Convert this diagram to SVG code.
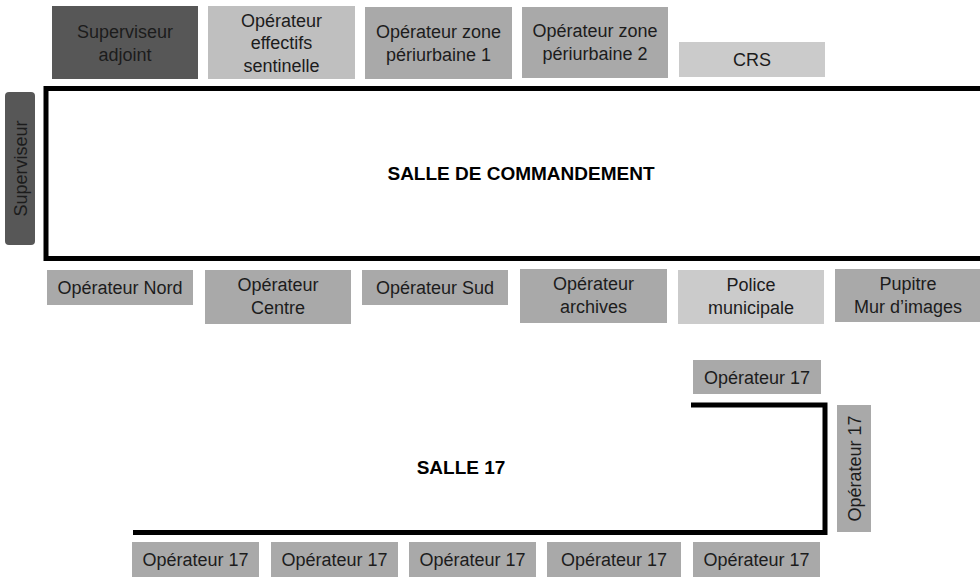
<svg xmlns="http://www.w3.org/2000/svg" width="980" height="577" viewBox="0 0 980 577">
<style>
text{font-family:"Liberation Sans",Arial,sans-serif;font-size:18px;fill:#1c1c1c;text-anchor:middle}
.bold{font-weight:bold;font-size:19px;fill:#000}
.wall{fill:none;stroke:#000;stroke-width:5}
.dark{fill:#575757}
.mid{fill:#a9a9a9}
.pale{fill:#bfbfbf}
.light{fill:#cbcbcb}
</style>
<rect width="980" height="577" fill="#fff"/>

<g id="salle-commandement">
<rect class="wall" x="46" y="88.5" width="945" height="170"/>
<text class="bold" x="521" y="180">SALLE DE COMMANDEMENT</text>
</g>

<g id="salle-17">
<polyline class="wall" points="691,405 825,405 825,532.5 133,532.5"/>
<text class="bold" x="461" y="474">SALLE 17</text>
</g>

<g id="superviseur">
<rect class="dark" x="5" y="92" width="30" height="153" rx="4"/>
<text x="0" y="0" transform="translate(26.5 168.5) rotate(-90)">Superviseur</text>
</g>

<g id="superviseur-adjoint">
<rect class="dark" x="52" y="6" width="146" height="73"/>
<text x="125" y="37.5">Superviseur</text>
<text x="125" y="60.5">adjoint</text>
</g>

<g id="operateur-effectifs-sentinelle">
<rect class="pale" x="208" y="6" width="147" height="73"/>
<text x="281.5" y="26.5">Opérateur</text>
<text x="281.5" y="49">effectifs</text>
<text x="281.5" y="71.5">sentinelle</text>
</g>

<g id="operateur-zone-periurbaine-1">
<rect class="mid" x="365" y="7" width="147" height="72"/>
<text x="438.5" y="37.5">Opérateur zone</text>
<text x="438.5" y="60.5">périurbaine 1</text>
</g>

<g id="operateur-zone-periurbaine-2">
<rect class="mid" x="522" y="7" width="146" height="71"/>
<text x="595" y="37">Opérateur zone</text>
<text x="595" y="60">périurbaine 2</text>
</g>

<g id="crs">
<rect class="light" x="679" y="42" width="146" height="35"/>
<text x="752" y="66">CRS</text>
</g>

<g id="operateur-nord">
<rect class="mid" x="47" y="270" width="146" height="35"/>
<text x="120" y="294">Opérateur Nord</text>
</g>

<g id="operateur-centre">
<rect class="mid" x="205" y="270" width="146" height="54"/>
<text x="278" y="291">Opérateur</text>
<text x="278" y="314">Centre</text>
</g>

<g id="operateur-sud">
<rect class="mid" x="362" y="270" width="146" height="35"/>
<text x="435" y="294">Opérateur Sud</text>
</g>

<g id="operateur-archives">
<rect class="mid" x="520" y="269" width="147" height="54"/>
<text x="593.5" y="290">Opérateur</text>
<text x="593.5" y="313">archives</text>
</g>

<g id="police-municipale">
<rect class="light" x="678" y="270" width="146" height="54"/>
<text x="751" y="291">Police</text>
<text x="751" y="314">municipale</text>
</g>

<g id="pupitre-mur-images">
<rect class="mid" x="835" y="269" width="146" height="53"/>
<text x="908" y="290">Pupitre</text>
<text x="908" y="313">Mur d’images</text>
</g>

<g id="operateur-17-haut">
<rect class="mid" x="693" y="360" width="128" height="34"/>
<text x="757" y="383.5">Opérateur 17</text>
</g>

<g id="operateur-17-droite">
<rect class="mid" x="837" y="405" width="34" height="127"/>
<text x="0" y="0" transform="translate(860.5 468.5) rotate(-90)">Opérateur 17</text>
</g>

<g id="operateur-17-1">
<rect class="mid" x="132" y="542" width="127" height="36"/>
<text x="195.5" y="566">Opérateur 17</text>
</g>
<g id="operateur-17-2">
<rect class="mid" x="271" y="542" width="127" height="36"/>
<text x="334.5" y="566">Opérateur 17</text>
</g>
<g id="operateur-17-3">
<rect class="mid" x="409" y="542" width="127" height="36"/>
<text x="472.5" y="566">Opérateur 17</text>
</g>
<g id="operateur-17-4">
<rect class="mid" x="547" y="542" width="134" height="36"/>
<text x="614" y="566">Opérateur 17</text>
</g>
<g id="operateur-17-5">
<rect class="mid" x="693" y="542" width="127" height="36"/>
<text x="756.5" y="566">Opérateur 17</text>
</g>
</svg>
